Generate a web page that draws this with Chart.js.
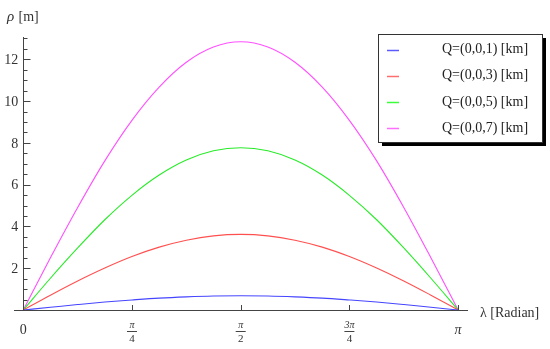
<!DOCTYPE html>
<html><head><meta charset="utf-8">
<script src="https://cdn.jsdelivr.net/npm/chart.js@4"></script>
<style>html,body{margin:0;padding:0;background:#fff;}canvas{display:block;}</style>
</head><body>
<canvas id="c" width="550" height="349"></canvas>
<script>
const lambda = [0, 0.196, 0.393, 0.589, 0.785, 0.982, 1.178, 1.374, 1.571, 1.767, 1.963, 2.160, 2.356, 2.553, 2.749, 2.945, 3.142];
const q1 = [0, 0.13, 0.26, 0.38, 0.48, 0.57, 0.63, 0.67, 0.68, 0.67, 0.63, 0.57, 0.48, 0.38, 0.26, 0.13, 0];
const q3 = [0, 0.71, 1.39, 2.01, 2.56, 3.01, 3.34, 3.55, 3.62, 3.55, 3.34, 3.01, 2.56, 2.01, 1.39, 0.71, 0];
const q5 = [0, 1.52, 2.97, 4.32, 5.49, 6.46, 7.18, 7.62, 7.77, 7.62, 7.18, 6.46, 5.49, 4.32, 2.97, 1.52, 0];
const q7 = [0, 2.50, 4.91, 7.14, 9.08, 10.67, 11.86, 12.59, 12.84, 12.59, 11.86, 10.67, 9.08, 7.14, 4.91, 2.50, 0];
const seriesLabels = ["Q=(0,0,1) [km]", "Q=(0,0,3) [km]", "Q=(0,0,5) [km]", "Q=(0,0,7) [km]"];
const yTickLabels = [0, 2, 4, 6, 8, 10, 12];
const xTickValues = [0, 0.785398, 1.570796, 2.356194, 3.141593];
const xTickLabels = [["0"], ["π", "4"], ["π", "2"], ["3π", "4"], ["π"]];

const colors = ["rgb(70,70,255)", "rgb(255,80,80)", "rgb(40,235,40)", "rgb(255,80,255)"];
const legendColors = ["rgb(90,90,255)", "rgb(255,110,110)", "rgb(60,255,60)", "rgb(255,110,255)"];
const serif = '"Liberation Serif", "Times New Roman", serif';

function pts(arr){ return arr.map((v,i)=>({x: lambda[i], y: v})); }

const axesPlugin = {
  id: 'axesPlugin',
  afterDatasetsDraw(chart){
    const ctx = chart.ctx, xs = chart.scales.x, ys = chart.scales.y, ca = chart.chartArea;
    const x0 = xs.getPixelForValue(0), y0 = ys.getPixelForValue(0);
    ctx.save();
    ctx.strokeStyle = '#444'; ctx.lineWidth = 1;
    ctx.beginPath();
    ctx.moveTo(ca.left, Math.round(y0)+0.5); ctx.lineTo(ca.right, Math.round(y0)+0.5);
    ctx.moveTo(Math.round(x0)+0.5, ca.top); ctx.lineTo(Math.round(x0)+0.5, Math.round(y0));
    ctx.stroke();
    ctx.beginPath();
    for (let v = 0.5; v <= 13.05; v += 0.5) {
      const py = Math.round(ys.getPixelForValue(v)) + 0.5;
      const major = Math.abs(v/2 - Math.round(v/2)) < 1e-6;
      ctx.moveTo(Math.round(x0)+0.5, py); ctx.lineTo(Math.round(x0)+0.5 + (major ? 7 : 4), py);
    }
    xTickValues.forEach(v => {
      if (v === 0) return;
      const px = Math.round(xs.getPixelForValue(v)) + 0.5;
      ctx.moveTo(px, Math.round(y0)); ctx.lineTo(px, Math.round(y0) - 5);
    });
    ctx.stroke();
    ctx.fillStyle = '#333';
    ctx.font = '14px ' + serif;
    ctx.textAlign = 'right'; ctx.textBaseline = 'middle';
    yTickLabels.forEach(v => {
      if (v === 0) return;
      ctx.fillText(String(v), x0 - 5, ys.getPixelForValue(v) + 1);
    });
    xTickValues.forEach((v, i) => {
      const px = xs.getPixelForValue(v);
      const lab = xTickLabels[i];
      ctx.textAlign = 'center'; ctx.textBaseline = 'middle';
      if (lab.length === 1) {
        ctx.font = (lab[0] === 'π' ? 'italic ' : '') + '14px ' + serif;
        ctx.fillText(lab[0], px, y0 + 20);
      } else {
        ctx.font = 'italic 10px ' + serif;
        ctx.fillText(lab[0], px, y0 + 15);
        ctx.beginPath();
        ctx.moveTo(px - 5, y0 + 21.5); ctx.lineTo(px + 5, y0 + 21.5);
        ctx.stroke();
        ctx.font = '11px ' + serif;
        ctx.fillText(lab[1], px, y0 + 29);
      }
    });
    ctx.textAlign = 'left'; ctx.textBaseline = 'middle';
    ctx.font = '14px ' + serif;
    ctx.fillText('λ [Radian]', 480, y0 + 3);
    ctx.font = 'italic 15px ' + serif;
    ctx.fillText('ρ', 7, 17);
    ctx.font = '14px ' + serif;
    ctx.fillText(' [m]', 15, 17);
    const bx = 378, by = 34, bw = 164, bh = 108;
    ctx.fillStyle = '#000';
    ctx.fillRect(bx + 4, by + bh, bw, 4);
    ctx.fillRect(bx + bw, by + 4, 4, bh);
    ctx.fillStyle = '#fff';
    ctx.fillRect(bx, by, bw, bh);
    ctx.strokeStyle = '#333';
    ctx.strokeRect(bx + 0.5, by + 0.5, bw, bh);
    chart.data.datasets.forEach((ds, i) => {
      const ly = 49.5 + i * 26.2;
      ctx.strokeStyle = legendColors[i]; ctx.lineWidth = 1.5;
      ctx.beginPath(); ctx.moveTo(387, Math.round(ly)+0.5); ctx.lineTo(399, Math.round(ly)+0.5); ctx.stroke();
      ctx.fillStyle = '#222';
      ctx.font = '14px ' + serif;
      ctx.textAlign = 'left'; ctx.textBaseline = 'middle';
      ctx.fillText(ds.label, 442, ly);
    });
    ctx.restore();
  }
};

new Chart(document.getElementById('c'), {
  type: 'line',
  data: {
    datasets: [q1, q3, q5, q7].map((arr, i) => ({
      label: seriesLabels[i],
      data: pts(arr),
      borderColor: colors[i],
      borderWidth: 1.1,
      pointRadius: 0,
      fill: false,
      cubicInterpolationMode: 'monotone'
    }))
  },
  options: {
    responsive: false,
    animation: false,
    layout: { padding: { left: 14, right: 82, top: 37, bottom: 39 } },
    plugins: { legend: { display: false }, tooltip: { enabled: false } },
    scales: {
      x: { type: 'linear', min: -0.067, max: 3.213, display: false },
      y: { type: 'linear', min: 0, max: 13.07, display: false }
    }
  },
  plugins: [axesPlugin]
});
</script>
</body></html>
